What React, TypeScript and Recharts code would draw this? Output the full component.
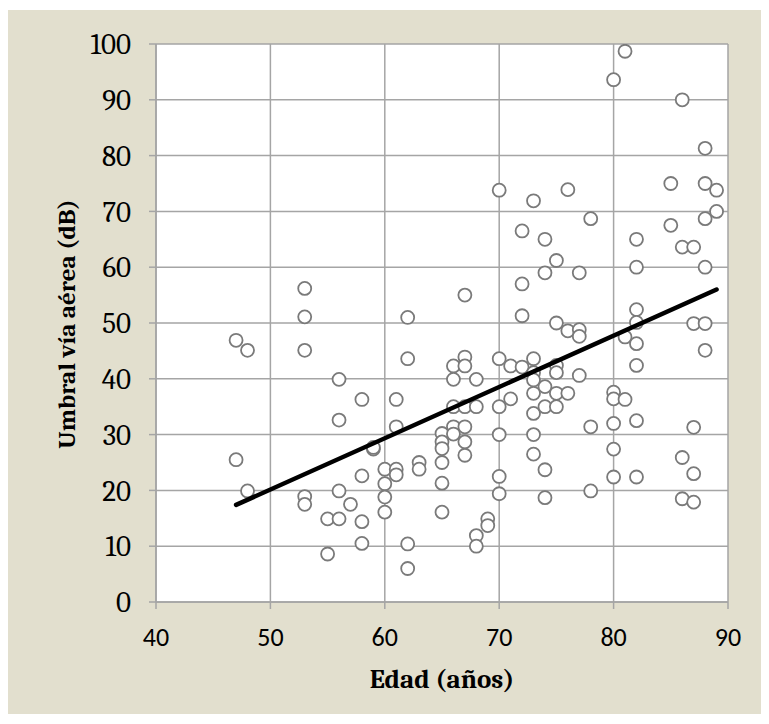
import React from 'react';
import { ScatterChart, Scatter, XAxis, YAxis, CartesianGrid } from 'recharts';

// ages (años) and air-conduction thresholds (dB), one pair per patient
const ages = [
  47, 47, 48, 48,
  53, 53, 53, 53, 53,
  55, 55,
  56, 56, 56, 56,
  57,
  58, 58, 58, 58,
  59, 59,
  60, 60, 60, 60,
  61, 61, 61, 61,
  62, 62, 62, 62,
  63, 63,
  65, 65, 65, 65, 65, 65,
  66, 66, 66, 66, 66,
  67, 67, 67, 67, 67, 67, 67,
  68, 68, 68, 68,
  69, 69,
  70, 70, 70, 70, 70, 70,
  71, 71,
  72, 72, 72, 72,
  73, 73, 73, 73, 73, 73, 73, 73,
  74, 74, 74, 74, 74, 74,
  75, 75, 75, 75, 75, 75,
  76, 76, 76,
  77, 77, 77, 77,
  78, 78, 78,
  80, 80, 80, 80, 80, 80,
  81, 81, 81,
  82, 82, 82, 82, 82, 82, 82, 82,
  85, 85,
  86, 86, 86, 86,
  87, 87, 87, 87, 87,
  88, 88, 88, 88, 88, 88,
  89, 89,
];

const thresholds = [
  46.9, 25.5, 45.1, 19.9,
  56.2, 51.1, 45.1, 18.9, 17.5,
  14.9, 8.6,
  39.9, 32.6, 19.9, 14.9,
  17.5,
  36.3, 22.6, 14.4, 10.5,
  27.4, 27.7,
  23.8, 21.2, 18.8, 16.1,
  36.3, 31.4, 23.8, 22.8,
  51.0, 43.6, 10.4, 6.0,
  25.0, 23.8,
  30.2, 28.7, 27.5, 25.0, 21.3, 16.1,
  42.3, 39.9, 35.0, 31.4, 30.1,
  55.0, 43.9, 42.3, 35.0, 31.4, 28.7, 26.3,
  39.9, 35.0, 11.9, 10.0,
  14.9, 13.7,
  73.8, 43.6, 35.0, 30.0, 22.5, 19.4,
  42.3, 36.4,
  66.5, 57.0, 51.3, 42.1,
  71.9, 43.6, 41.1, 39.8, 37.4, 33.8, 30.0, 26.5,
  65.0, 59.0, 38.6, 35.0, 23.7, 18.7,
  61.2, 50.0, 42.4, 41.1, 37.4, 35.0,
  73.9, 48.6, 37.4,
  59.0, 48.8, 47.6, 40.6,
  68.7, 31.4, 19.9,
  93.6, 37.6, 36.4, 32.0, 27.4, 22.4,
  98.7, 47.5, 36.3,
  65.0, 60.0, 52.4, 50.1, 46.3, 42.4, 32.5, 22.4,
  75.0, 67.5,
  90.0, 63.6, 25.9, 18.5,
  63.6, 49.9, 31.3, 23.0, 17.9,
  81.3, 75.0, 68.7, 60.0, 49.9, 45.1,
  73.8, 70.0,
];

// linear trend line end points
const trendAges = [47, 89];
const trendValues = [17.4, 56.0];

const xTicks = [40, 50, 60, 70, 80, 90];
const yTicks = [0, 10, 20, 30, 40, 50, 60, 70, 80, 90, 100];

const points = ages.map((a, i) => ({ x: a, y: thresholds[i] }));
const trend = trendAges.map((a, i) => ({ x: a, y: trendValues[i] }));

const BEIGE = '#e2dfce';
const GRID = '#a5a5a5';
const serif = "Cambria, Caladea, 'Liberation Serif', serif";
const sans = "Calibri, Carlito, Lato, sans-serif";

const Dot = (props: any) => {
  const { cx, cy } = props;
  if (cx == null || cy == null) return <g />;
  return <circle cx={cx} cy={cy} r={6.5} fill="#ffffff" stroke="#7a7a7a" strokeWidth={1.8} />;
};

const NoDot = () => <g />;

const XTitle = (props: any) => {
  const vb = props.viewBox || { x: 148, y: 592, width: 572 };
  return (
    <text x={vb.x + vb.width / 2} y={vb.y + 86} textAnchor="middle"
      fontFamily={serif} fontWeight="bold" fontSize={27} fill="#000">
      Edad (años)
    </text>
  );
};

const YTitle = () => {
  const x = 66.5;
  const y = 314;
  return (
    <text x={x} y={y} transform={`rotate(-90, ${x}, ${y})`} textAnchor="middle"
      fontFamily={serif} fontWeight="bold" fontSize={25} fill="#000">
      Umbral vía aérea (dB)
    </text>
  );
};

export default function App() {
  return (
    <div style={{ width: 753, height: 704, marginTop: 2, background: BEIGE }}>
      <ScatterChart width={753} height={704} margin={{ top: 34, right: 33, bottom: 0, left: 0 }}>
        <CartesianGrid stroke={GRID} strokeWidth={1.5} fill="#ffffff" fillOpacity={1} />
        <XAxis
          type="number"
          dataKey="x"
          domain={[40, 90]}
          ticks={xTicks}
          interval={0}
          height={112}
          allowDataOverflow
          axisLine={{ stroke: GRID, strokeWidth: 1.5 }}
          tickLine={{ stroke: GRID, strokeWidth: 1.5 }}
          tickSize={7}
          tickMargin={19}
          tick={{ fontFamily: sans, fontSize: 26, fill: '#000' }}
          label={XTitle}
        />
        <YAxis
          type="number"
          dataKey="y"
          domain={[0, 100]}
          ticks={yTicks}
          interval={0}
          width={148}
          allowDataOverflow
          axisLine={{ stroke: GRID, strokeWidth: 1.5 }}
          tickLine={{ stroke: GRID, strokeWidth: 1.5 }}
          tickSize={7}
          tickMargin={18}
          tick={{ fontFamily: serif, fontSize: 29, fill: '#000' }}
          label={YTitle}
        />
        <Scatter data={points} shape={Dot} isAnimationActive={false} />
        <Scatter
          data={trend}
          shape={NoDot}
          line={{ stroke: '#000', strokeWidth: 4.5, strokeLinecap: 'round' }}
          isAnimationActive={false}
        />
      </ScatterChart>
    </div>
  );
}
